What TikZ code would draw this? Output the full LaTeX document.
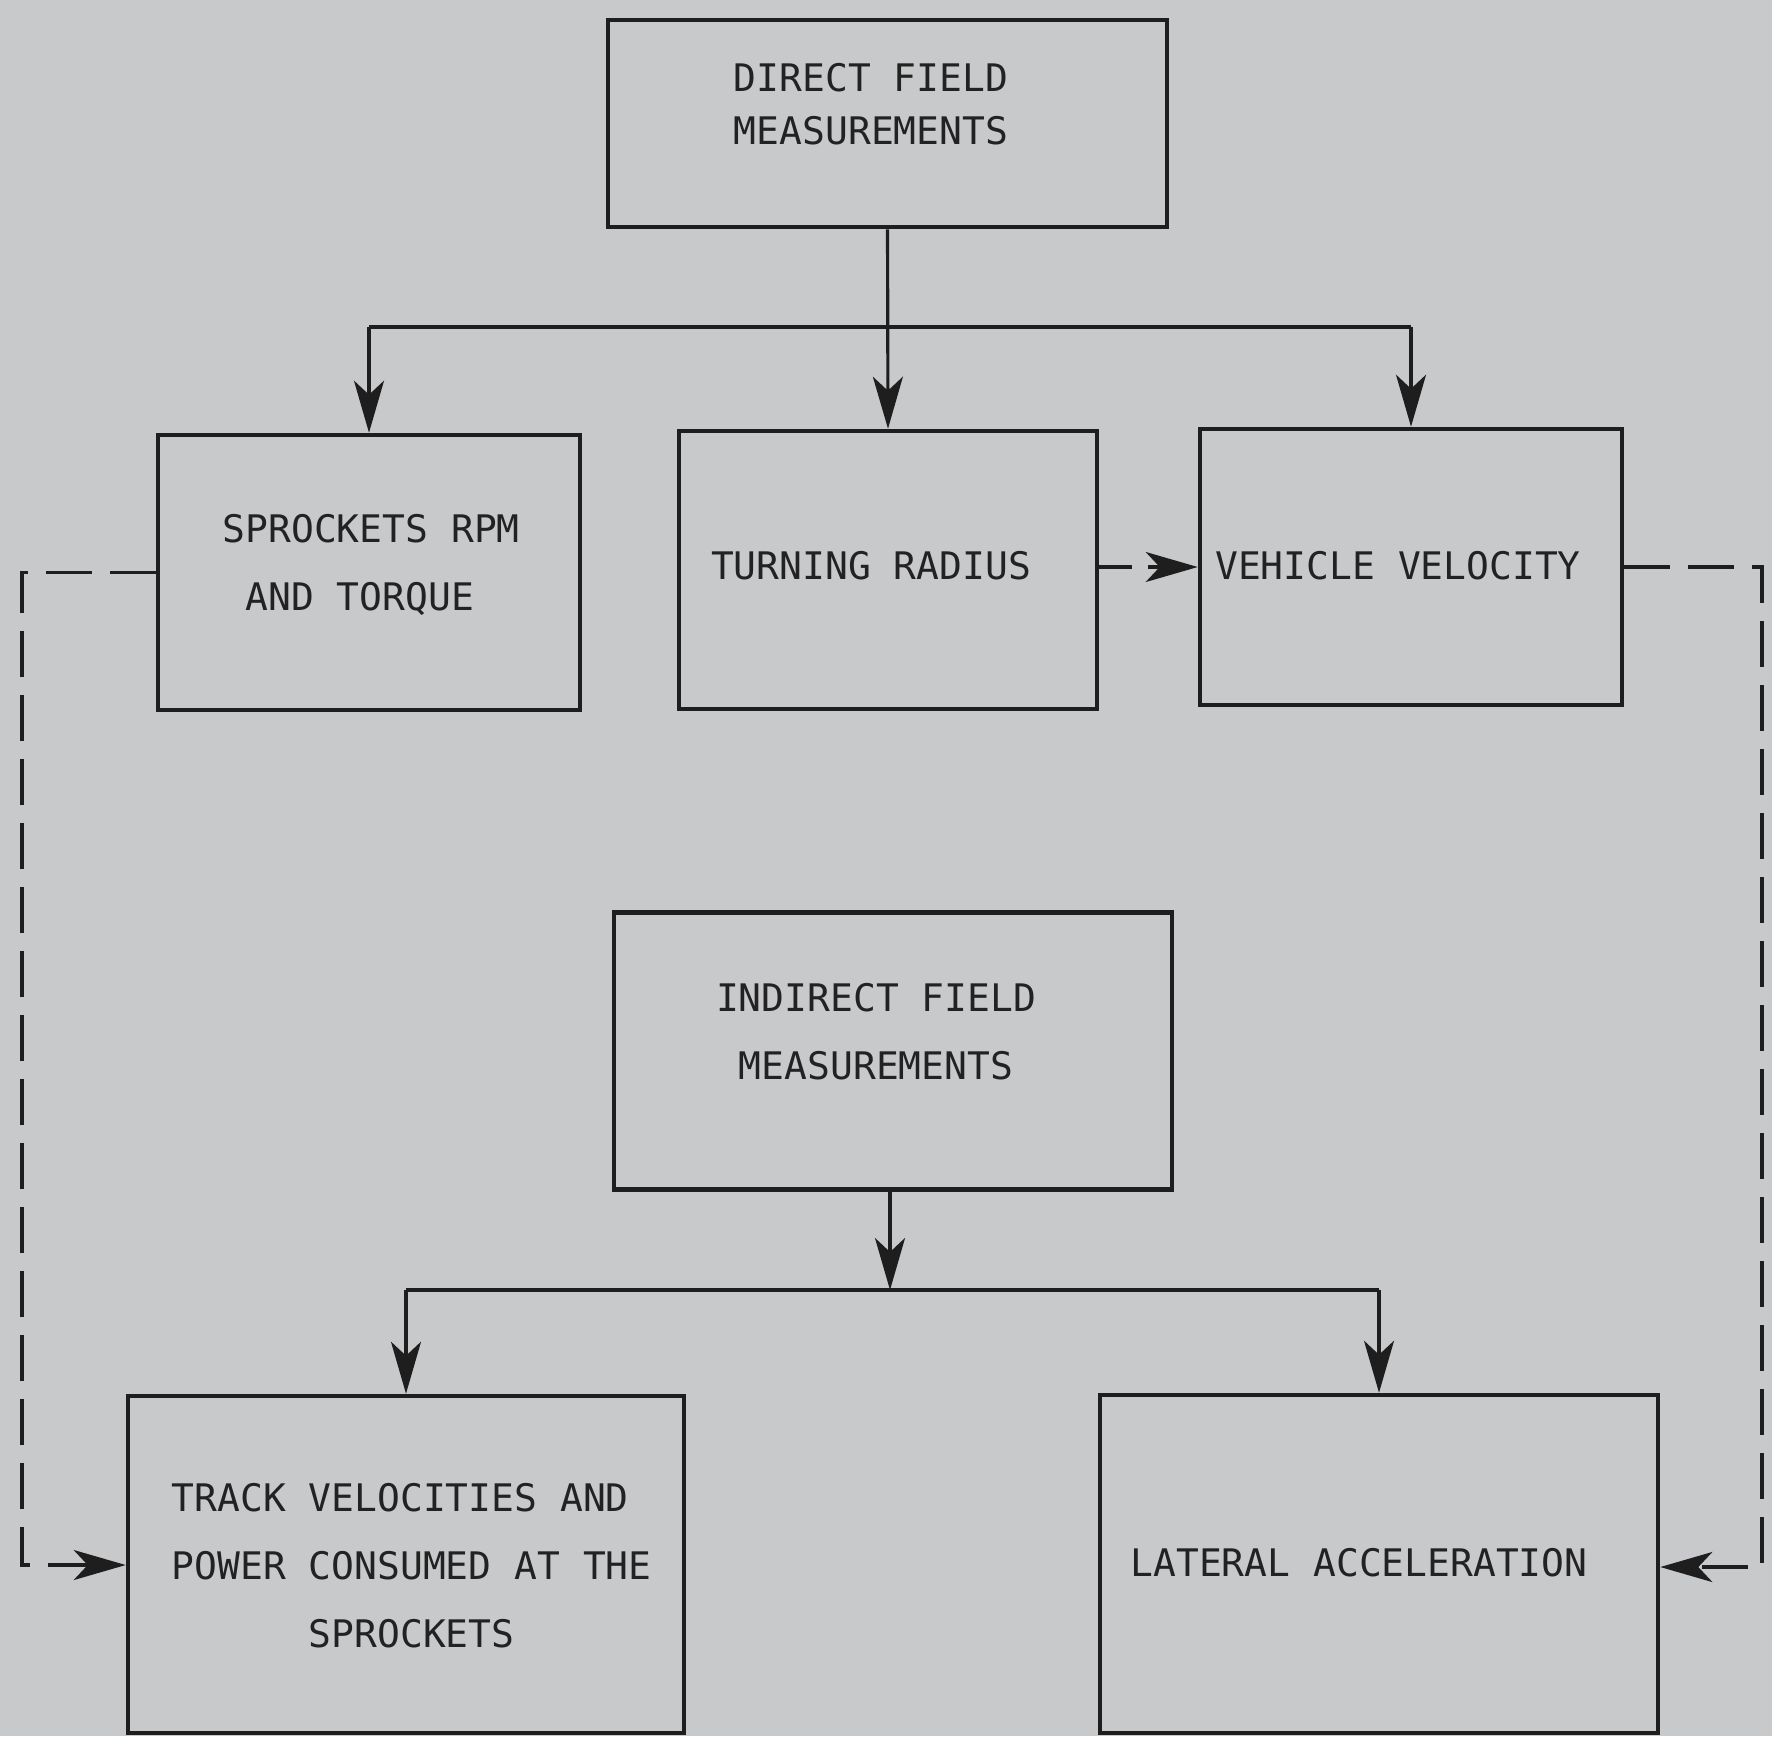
\documentclass[tikz,border=0pt]{standalone}
\usepackage{fontspec}
\newfontfamily\typefont{DejaVu Sans Mono}
\usetikzlibrary{arrows.meta}
\definecolor{paper}{RGB}{200,201,203}
\definecolor{ink}{RGB}{30,30,30}
\definecolor{textink}{RGB}{34,34,34}
\tikzset{
  box/.style={draw=ink, line width=1.3pt, inner sep=0pt, rectangle},
  lbl/.style={anchor=base, align=center, text=textink, inner sep=0pt,
    font=\typefont\fontsize{10.8pt}{19.3pt}\selectfont},
  lblleft/.style={lbl, anchor=base west, align=left},
  lbltight/.style={lbl, font=\typefont\fontsize{10.8pt}{14.8pt}\selectfont},
  conn/.style={draw=ink, line width=0.9pt, -{Stealth[length=5.2mm, width=3mm, inset=1.4mm]}},
  plain/.style={draw=ink, line width=0.9pt},
  dconn/.style={conn, dash pattern=on 4.6mm off 1.8mm},
}
\begin{document}
\begin{tikzpicture}[x=0.1mm, y=-0.1mm]
\path[use as bounding box, fill=paper] (0,0) rectangle (1772,1736);

% boxes (sizes in mm: 1 px = 0.1 mm)
\node[box, minimum width=55.9mm, minimum height=20.7mm] (direct) at (887.5,123.5) {};
\node[box, minimum width=42.2mm, minimum height=27.5mm] (sprk) at (369,572.5) {};
\node[box, minimum width=41.8mm, minimum height=27.8mm] (turn) at (888,570) {};
\node[box, minimum width=42.2mm, minimum height=27.6mm] (veh) at (1411,567) {};
\node[box, minimum width=55.8mm, minimum height=27.7mm] (ind) at (893,1051) {};
\node[box, minimum width=55.6mm, minimum height=33.7mm] (track) at (406,1564.5) {};
\node[box, minimum width=55.8mm, minimum height=33.8mm] (lat) at (1379,1564) {};

% labels (anchored at the baseline of the last line)
\node[lbltight] (directT) at (871,144) {DIRECT FIELD\\MEASUREMENTS};
\node[lblleft] (sprkT) at (222,610) {SPROCKETS RPM\\\phantom{X}AND TORQUE};
\node[lbl] (turnT) at (871,579) {TURNING RADIUS};
\node[lbl] (vehT) at (1398,579) {VEHICLE VELOCITY};
\node[lbl] (indT) at (876,1079) {INDIRECT FIELD\\MEASUREMENTS};
\node[lblleft] (trackT) at (171,1647) {TRACK VELOCITIES AND\\POWER CONSUMED AT THE\\\phantom{XXXXXX}SPROCKETS};
\node[lbl] (latT) at (1359,1576) {LATERAL ACCELERATION};

% top tree
\coordinate (b1) at (887,327);
\draw[conn] (direct.south) -- (turn.north);
\draw[plain] (b1) -- (b1 -| sprk.north);
\draw[plain] (b1) -- (b1 -| veh.north);
\draw[conn] (b1 -| sprk.north) -- (sprk.north);
\draw[conn] (b1 -| veh.north) -- (veh.north);

% bottom tree
\coordinate (b2) at (890,1290);
\draw[conn] (ind.south -| b2) -- (b2);
\draw[plain] (b2) -- (b2 -| track.north);
\draw[plain] (b2) -- (b2 -| lat.north);
\draw[conn] (b2 -| track.north) -- (track.north);
\draw[conn] (b2 -| lat.north) -- (lat.north);

% dashed connectors
\draw[dconn, dash pattern=on 3.3mm off 1.6mm] (turn.east |- veh.west) -- (veh.west);
\coordinate (c1) at (22,572.5);
\coordinate (c2) at (22,1565);
\draw[dconn] (sprk.west) -- (c1) -- (c2) -- (c2 -| track.west);
\coordinate (c3) at (1762,567);
\coordinate (c4) at (1762,1567);
\draw[dconn] (veh.east) -- (c3) -- (c4) -- (c4 -| lat.east);
\end{tikzpicture}
\end{document}
